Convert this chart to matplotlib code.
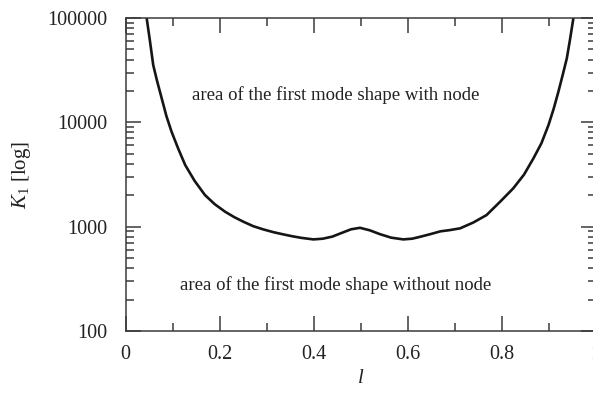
import numpy as np
import matplotlib
matplotlib.use("Agg")
import matplotlib.pyplot as plt
from matplotlib.ticker import LogLocator, MultipleLocator, FixedLocator, FixedFormatter

# stiffness K1 against position l
l_vals = [0.043, 0.045, 0.052, 0.059, 0.067, 0.077, 0.087, 0.098, 0.112, 0.127,
          0.147, 0.169, 0.190, 0.212, 0.232, 0.251, 0.272, 0.293, 0.315, 0.336,
          0.355, 0.375, 0.400, 0.420, 0.440, 0.460, 0.480, 0.499, 0.520, 0.541,
          0.565, 0.591, 0.610, 0.627, 0.650, 0.670, 0.690, 0.712, 0.740, 0.768,
          0.797, 0.825, 0.848, 0.868, 0.885, 0.900, 0.911, 0.921, 0.930, 0.939,
          0.946, 0.953, 0.955]
k1_vals = [120000, 100000, 60300, 35400, 25100, 17000, 11500, 8130, 5620, 3900,
           2750, 2010, 1640, 1390, 1230, 1114, 1010, 942, 885, 843,
           809, 780, 755, 767, 803, 871, 944, 975, 922, 849,
           785, 755, 767, 800, 851, 902, 927, 964, 1096, 1290,
           1733, 2330, 3160, 4520, 6310, 9420, 13490, 19600, 28200, 41100,
           63100, 100000, 120000]

y_ticks = [100, 1000, 10000, 100000]
y_labels = ["100", "1000", "10000", "100000"]
x_ticks = [0, 0.2, 0.4, 0.6, 0.8, 1.0]
x_labels = ["0", "0.2", "0.4", "0.6", "0.8", "1"]

plt.rcParams["font.family"] = ["Liberation Serif", "DejaVu Serif"]
plt.rcParams["mathtext.fontset"] = "custom"
plt.rcParams["mathtext.rm"] = "Liberation Serif"
plt.rcParams["mathtext.it"] = "Liberation Serif:italic"

ink = "#222222"
axis_col = "#3a3a3a"

fig = plt.figure(figsize=(5.93, 3.96), dpi=100)
ax = fig.add_axes([125.5 / 593, 65 / 396, 470 / 593, 313 / 396])

ax.plot(l_vals, k1_vals, color="#151515", lw=1.9,
        solid_joinstyle="round", solid_capstyle="butt")

ax.set_yscale("log")
ax.set_xlim(0, 1)
ax.set_ylim(100, 100000)

ax.yaxis.set_major_locator(FixedLocator(y_ticks))
ax.yaxis.set_major_formatter(FixedFormatter(y_labels))
ax.yaxis.set_minor_locator(LogLocator(base=10, subs=np.arange(2, 10)))
ax.yaxis.set_minor_formatter(plt.NullFormatter())
ax.xaxis.set_major_locator(FixedLocator(x_ticks))
ax.xaxis.set_major_formatter(FixedFormatter(x_labels))
ax.xaxis.set_minor_locator(MultipleLocator(0.1))

for s in ax.spines.values():
    s.set_color(axis_col)
    s.set_linewidth(1.1)

ax.tick_params(which="both", direction="in", top=True, right=True,
               color=axis_col, width=1.1, labelsize=14.5, labelcolor=ink)
ax.tick_params(which="major", length=11)
ax.tick_params(which="minor", length=5.8)
ax.tick_params(axis="y", which="major", pad=13)
ax.tick_params(axis="x", which="major", pad=10)

ax.set_xlabel("$l$", fontsize=15, color=ink, labelpad=4)
ax.set_ylabel("$K_1$ [log]", fontsize=15, color=ink, labelpad=10)

ax.text(0.448, 18300, "area of the first mode shape with node",
        ha="center", va="center", fontsize=13.5, color=ink)
ax.text(0.448, 275, "area of the first mode shape without node",
        ha="center", va="center", fontsize=13.5, color=ink)

fig.savefig("out.png", dpi=100)
